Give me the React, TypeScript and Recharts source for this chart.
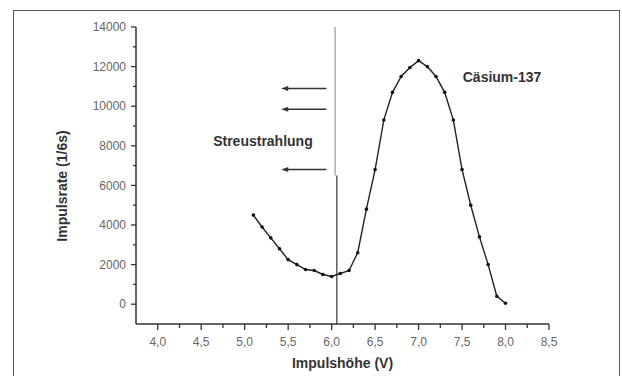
import { LineChart, Line, XAxis, YAxis, ReferenceLine, ReferenceDot } from "recharts";

// Impulshöhe (V) and Impulsrate (1/6s)
const volts = [5.1, 5.2, 5.3, 5.4, 5.5, 5.6, 5.7, 5.8, 5.9, 6.0, 6.1, 6.2, 6.3, 6.4, 6.5, 6.6, 6.7, 6.8, 6.9, 7.0, 7.1, 7.2, 7.3, 7.4, 7.5, 7.6, 7.7, 7.8, 7.9, 8.0];
const rates = [4500, 3900, 3350, 2800, 2250, 2000, 1750, 1700, 1500, 1400, 1550, 1700, 2600, 4800, 6800, 9300, 10700, 11500, 11950, 12300, 12000, 11500, 10700, 9300, 6800, 5000, 3400, 2000, 400, 50];

const xTicks = [4, 4.25, 4.5, 4.75, 5, 5.25, 5.5, 5.75, 6, 6.25, 6.5, 6.75, 7, 7.25, 7.5, 7.75, 8, 8.25, 8.5];
const xMajor = [4, 4.5, 5, 5.5, 6, 6.5, 7, 7.5, 8, 8.5];
const yTicks = [0, 1000, 2000, 3000, 4000, 5000, 6000, 7000, 8000, 9000, 10000, 11000, 12000, 13000, 14000];
const yMajor = [0, 2000, 4000, 6000, 8000, 10000, 12000, 14000];

// arrows pointing at the scatter region, and the threshold line
const arrowRates = [10900, 9850, 6800];
const arrowFrom = 5.94;
const arrowTo = 5.42;
const thresholdVolt = 6.06;

const data = volts.map((x, i) => ({ x, rate: rates[i] }));

const FONT = "'Liberation Sans', Arial, sans-serif";

function XTick({ x, y, payload }: any) {
  const major = xMajor.includes(payload.value);
  return (
    <g>
      <line x1={x} y1={y} x2={x} y2={y + (major ? 6 : 4)} stroke="#333" strokeWidth={1.3} />
      {major && (
        <text x={x} y={y + 22} textAnchor="middle" fontSize={12} fill="#666" fontFamily={FONT}>
          {payload.value.toFixed(1).replace(".", ",")}
        </text>
      )}
    </g>
  );
}

function YTick({ x, y, payload }: any) {
  const major = yMajor.includes(payload.value);
  return (
    <g>
      <line x1={x - (major ? 5 : 3)} y1={y} x2={x} y2={y} stroke="#333" strokeWidth={1.3} />
      {major && (
        <text x={x - 10} y={y} dy="0.35em" textAnchor="end" fontSize={12} fill="#666" fontFamily={FONT}>
          {payload.value}
        </text>
      )}
    </g>
  );
}

function Arrow(props: any) {
  const { x1, y1, x2, y2 } = props;
  return (
    <g>
      <line x1={x1} y1={y1} x2={x2 + 5} y2={y2} stroke="#333" strokeWidth={1.5} />
      <polygon points={`${x2},${y2} ${x2 + 7},${y2 - 2.5} ${x2 + 7},${y2 + 2.5}`} fill="#333" />
    </g>
  );
}

const boldLabel = { fontSize: 14, fontWeight: "bold", fill: "#333", fontFamily: FONT };

export default function App() {
  return (
    <div style={{ position: "absolute", left: 0, top: 0, width: 622, height: 376, overflow: "hidden", background: "#fff" }}>
      <div
        style={{
          position: "absolute",
          left: 13,
          top: 10,
          width: 607,
          height: 400,
          border: "1.5px solid #555",
          boxSizing: "border-box",
        }}
      />
      <div style={{ position: "absolute", left: 0, top: 0 }}>
        <LineChart width={622} height={376} data={data} margin={{ top: 27, right: 73, bottom: 12, left: 0 }}>
          <XAxis
            dataKey="x"
            type="number"
            domain={[3.75, 8.5]}
            ticks={xTicks}
            interval={0}
            tickSize={0}
            tickMargin={0}
            tick={<XTick />}
            height={40}
            axisLine={{ stroke: "#333", strokeWidth: 1.5 }}
            label={{
              content: ({ viewBox }: any) => (
                <text
                  x={viewBox.x + viewBox.width / 2}
                  y={viewBox.y + 44}
                  textAnchor="middle"
                  {...boldLabel}
                >
                  Impulshöhe (V)
                </text>
              ),
            }}
          />
          <YAxis
            type="number"
            domain={[-1000, 14000]}
            ticks={yTicks}
            interval={0}
            tickSize={0}
            tickMargin={0}
            tick={<YTick />}
            width={136}
            axisLine={{ stroke: "#333", strokeWidth: 1.5 }}
            label={{
              content: () => (
                <text x={62} y={186} transform="rotate(-90 62 186)" textAnchor="middle" dy="0.35em" {...boldLabel}>
                  Impulsrate (1/6s)
                </text>
              ),
            }}
          />
          <ReferenceLine
            segment={[
              { x: thresholdVolt - 0.02, y: 6500 },
              { x: thresholdVolt - 0.02, y: 14000 },
            ]}
            stroke="#999"
            strokeWidth={1.2}
          />
          <ReferenceLine
            segment={[
              { x: thresholdVolt, y: -1000 },
              { x: thresholdVolt, y: 6500 },
            ]}
            stroke="#333"
            strokeWidth={1.2}
          />
          {arrowRates.map((r) => (
            <ReferenceLine
              key={r}
              segment={[
                { x: arrowFrom, y: r },
                { x: arrowTo, y: r },
              ]}
              shape={Arrow}
            />
          ))}
          <ReferenceDot x={7.96} y={11450} r={0} fill="none" stroke="none" label={{ value: "Cäsium-137", position: "center", ...boldLabel }} />
          <ReferenceDot x={5.21} y={8250} r={0} fill="none" stroke="none" label={{ value: "Streustrahlung", position: "center", ...boldLabel }} />
          <Line
            dataKey="rate"
            type="linear"
            stroke="#222"
            strokeWidth={1.4}
            dot={{ r: 1.8, fill: "#111", stroke: "none" }}
            activeDot={false}
            isAnimationActive={false}
          />
        </LineChart>
      </div>
    </div>
  );
}
